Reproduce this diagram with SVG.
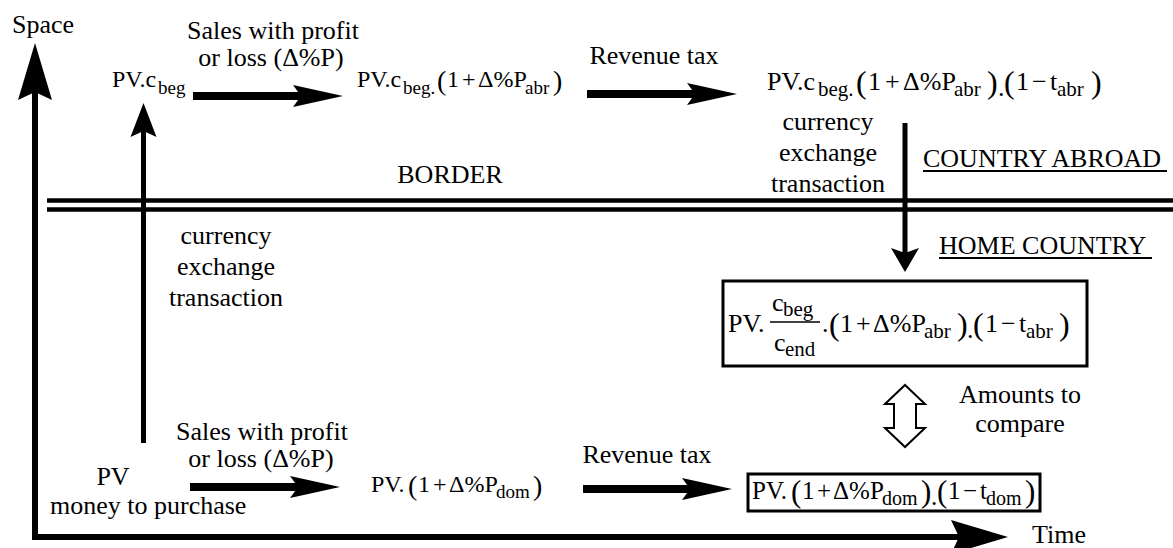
<svg xmlns="http://www.w3.org/2000/svg" width="1173" height="548" viewBox="0 0 1173 548">
<style>
.t{font-family:"Liberation Serif","Tinos","DejaVu Serif","Noto Serif",serif;font-size:26px;fill:#000}
.m24{font-size:24px}
.m25{font-size:25px}
.sb{font-size:21px}
.sb20{font-size:20px}
.sb19{font-size:19px}
.pr{font-size:32px}
.pr31{font-size:31px}
.pr28{font-size:28px}
.mid{text-anchor:middle}
.thick{stroke:#000;stroke-width:8;fill:none}
.axis{stroke:#000;stroke-width:6;fill:none;stroke-linejoin:miter}
.vert{stroke:#000;stroke-width:5;fill:none}
.box{fill:#fff;stroke:#000;stroke-width:3}
.ul{stroke:#000;stroke-width:2}
.border{stroke:#000;stroke-width:4.5}
</style>
<defs>
<marker id="hThick" markerUnits="userSpaceOnUse" viewBox="0 -12 52 24" markerWidth="52" markerHeight="24" refX="8" refY="0" orient="auto">
<path d="M0,-11 L50,0 L0,11 L8,0 Z" fill="#000"/>
</marker>
<marker id="hAxis" markerUnits="userSpaceOnUse" viewBox="0 -18 58 36" markerWidth="58" markerHeight="36" refX="8" refY="0" orient="auto-start-reverse">
<path d="M0,-17 L57,0 L0,17 L8,0 Z" fill="#000"/>
</marker>
<marker id="hVert" markerUnits="userSpaceOnUse" viewBox="0 -14 36 28" markerWidth="36" markerHeight="28" refX="6" refY="0" orient="auto">
<path d="M0,-13 L34,0 L0,13 L6,0 Z" fill="#000"/>
</marker>
<marker id="hDown" markerUnits="userSpaceOnUse" viewBox="0 -15 26 30" markerWidth="26" markerHeight="30" refX="5" refY="0" orient="auto">
<path d="M0,-14 L24,0 L0,14 L5,0 Z" fill="#000"/>
</marker>
</defs>

<g id="axes">
<path class="axis" d="M35,92 L35,537 L959,537" marker-start="url(#hAxis)" marker-end="url(#hAxis)"/>
<text class="t" x="12" y="33">Space</text>
<text class="t" x="1032" y="543">Time</text>
</g>

<g id="border">
<line class="border" x1="47" y1="200.5" x2="1173" y2="200.5"/>
<line class="border" x1="47" y1="209.5" x2="1173" y2="209.5"/>
<text class="t mid" x="450" y="183">BORDER</text>
</g>

<g id="country-abroad">
<text class="t" x="923" y="167">COUNTRY ABROAD</text>
<line class="ul" x1="923" y1="171" x2="1167" y2="171"/>
</g>

<g id="home-country">
<text class="t" x="939" y="254">HOME COUNTRY</text>
<line class="ul" x1="939" y1="258" x2="1152" y2="258"/>
</g>

<g id="connectors">
<line class="thick" x1="193" y1="96" x2="301" y2="96" marker-end="url(#hThick)"/>
<line class="thick" x1="587" y1="94" x2="695" y2="94" marker-end="url(#hThick)"/>
<line class="thick" x1="190" y1="487" x2="298" y2="487" marker-end="url(#hThick)"/>
<line class="thick" x1="583" y1="489" x2="690" y2="489" marker-end="url(#hThick)"/>
<line class="vert" x1="143.5" y1="443" x2="143.5" y2="131" marker-end="url(#hVert)"/>
<line class="vert" x1="905" y1="123" x2="905" y2="253" marker-end="url(#hDown)"/>
<path d="M905,385 L925,404 L916,404 L916,428 L925,428 L905,447 L885,428 L894,428 L894,404 L885,404 Z" fill="#fff" stroke="#000" stroke-width="2"/>
</g>

<g id="label-sales-top">
<text class="t mid" x="273" y="39">Sales with profit</text>
<text class="t mid" x="271" y="66">or loss (Δ%P)</text>
</g>
<g id="label-tax-top">
<text class="t mid" x="654" y="64">Revenue tax</text>
</g>
<g id="label-exchange-right">
<text class="t mid" x="828" y="130">currency</text>
<text class="t mid" x="828" y="161">exchange</text>
<text class="t mid" x="828" y="192">transaction</text>
</g>
<g id="label-exchange-left">
<text class="t mid" x="226" y="244">currency</text>
<text class="t mid" x="226" y="275">exchange</text>
<text class="t mid" x="226" y="306">transaction</text>
</g>
<g id="label-sales-bottom">
<text class="t mid" x="262" y="440">Sales with profit</text>
<text class="t mid" x="261" y="467">or loss (Δ%P)</text>
</g>
<g id="label-tax-bottom">
<text class="t mid" x="647" y="463">Revenue tax</text>
</g>
<g id="label-compare">
<text class="t mid" x="1020" y="403">Amounts to</text>
<text class="t mid" x="1020" y="432">compare</text>
</g>

<g id="node-pv-cbeg">
<text class="t m24"><tspan x="112" y="87">PV.c</tspan><tspan class="sb19" x="158" y="94">beg</tspan></text>
</g>

<g id="node-abroad-sales">
<text class="t m24"><tspan x="357" y="87">PV.c</tspan><tspan class="sb19" x="403" y="94">beg.</tspan><tspan class="pr28" x="437" y="90">(</tspan><tspan x="447" y="87">1</tspan><tspan x="462" y="87">+</tspan><tspan x="478" y="87">Δ%P</tspan><tspan class="sb19" x="525" y="94">abr</tspan><tspan class="pr28" x="553" y="90">)</tspan></text>
</g>

<g id="node-abroad-tax">
<text class="t"><tspan x="767" y="90">PV.c</tspan><tspan class="sb" x="818" y="96">beg.</tspan><tspan class="pr" x="856" y="93">(</tspan><tspan x="868" y="90">1</tspan><tspan x="885" y="90">+</tspan><tspan x="903" y="90">Δ%P</tspan><tspan class="sb" x="954" y="96">abr</tspan><tspan class="pr" x="987" y="93">)</tspan><tspan x="998" y="96">.</tspan><tspan class="pr" x="1004" y="93">(</tspan><tspan x="1016" y="90">1</tspan><tspan x="1032" y="90">−</tspan><tspan x="1050" y="90">t</tspan><tspan class="sb" x="1057" y="96">abr</tspan><tspan class="pr" x="1091" y="93">)</tspan></text>
</g>

<g id="node-home-converted">
<rect class="box" x="723" y="281" width="364" height="85"/>
<line x1="770" y1="322" x2="820" y2="322" stroke="#000" stroke-width="1.5"/>
<text class="t"><tspan x="728" y="332">PV.</tspan><tspan x="772" y="311">c</tspan><tspan class="sb" x="783" y="316">beg</tspan><tspan x="774" y="351">c</tspan><tspan class="sb" x="785" y="356">end</tspan><tspan x="822" y="332">.</tspan><tspan class="pr" x="829" y="335">(</tspan><tspan x="840" y="332">1</tspan><tspan x="856" y="332">+</tspan><tspan x="873" y="332">Δ%P</tspan><tspan class="sb" x="924" y="338">abr</tspan><tspan class="pr" x="957" y="335">)</tspan><tspan x="967" y="338">.</tspan><tspan class="pr" x="973" y="335">(</tspan><tspan x="985" y="332">1</tspan><tspan x="1001" y="332">−</tspan><tspan x="1019" y="332">t</tspan><tspan class="sb" x="1026" y="338">abr</tspan><tspan class="pr" x="1059" y="335">)</tspan></text>
</g>

<g id="node-pv-start">
<text class="t mid" x="113" y="485">PV</text>
<text class="t" x="50" y="514">money to purchase</text>
</g>

<g id="node-home-sales">
<text class="t m24"><tspan x="371" y="492">PV.</tspan><tspan class="pr28" x="408" y="495">(</tspan><tspan x="418" y="492">1</tspan><tspan x="433" y="492">+</tspan><tspan x="449" y="492">Δ%P</tspan><tspan class="sb19" x="496" y="498">dom</tspan><tspan class="pr28" x="533" y="495">)</tspan></text>
</g>

<g id="node-home-tax">
<rect class="box" x="748" y="474" width="292" height="37"/>
<text class="t m25"><tspan x="752" y="499">PV.</tspan><tspan class="pr31" x="791" y="502">(</tspan><tspan x="802" y="499">1</tspan><tspan x="817" y="499">+</tspan><tspan x="833" y="499">Δ%P</tspan><tspan class="sb20" x="882" y="505">dom</tspan><tspan class="pr31" x="921" y="502">)</tspan><tspan x="931" y="505">.</tspan><tspan class="pr31" x="937" y="502">(</tspan><tspan x="948" y="499">1</tspan><tspan x="963" y="499">−</tspan><tspan x="980" y="499">t</tspan><tspan class="sb20" x="986" y="505">dom</tspan><tspan class="pr31" x="1025" y="502">)</tspan></text>
</g>
</svg>
